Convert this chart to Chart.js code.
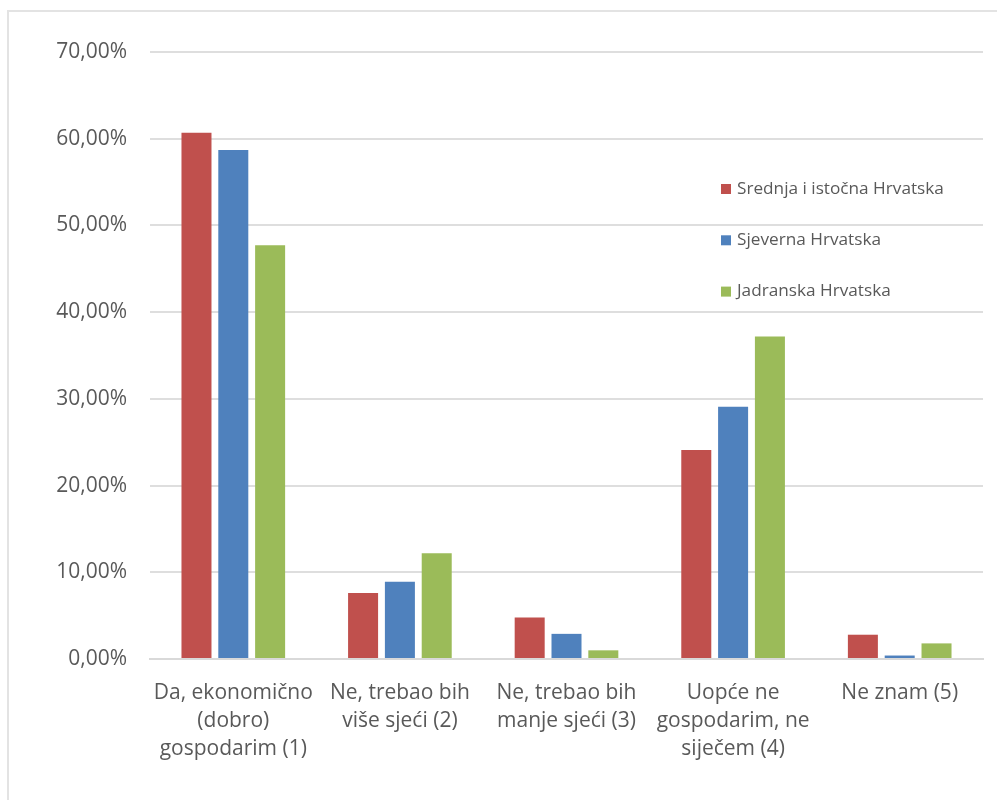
<!DOCTYPE html>
<html>
<head>
<meta charset="utf-8">
<script src="https://cdn.jsdelivr.net/npm/chart.js@4/dist/chart.umd.min.js"></script>
<style>
    html, body { margin: 0; padding: 0; background: #fff; }
    #wrap { position: relative; width: 997px; height: 800px; overflow: hidden; }
    #frame { position: absolute; left: 7px; top: 10px; width: 1100px; height: 900px; border: 2px solid #e3e3e3; box-sizing: border-box; }
    canvas { position: absolute; left: 0; top: 0; }
</style>
</head>
<body>
<div id="wrap">
    <div id="frame"></div>
    <canvas id="myChart" width="997" height="800"></canvas>
</div>
<script>
// Kategorije i vrijednosti (%)
const categories = [
    ['Da, ekonomično', '(dobro)', 'gospodarim (1)'],
    ['Ne, trebao bih', 'više sjeći (2)'],
    ['Ne, trebao bih', 'manje sjeći (3)'],
    ['Uopće ne', 'gospodarim, ne', 'siječem (4)'],
    ['Ne znam (5)']
];
const seriesNames = ['Srednja i istočna Hrvatska', 'Sjeverna Hrvatska', 'Jadranska Hrvatska'];
const srednja = [60.7, 7.6, 4.8, 24.1, 2.8];
const sjeverna = [58.7, 8.9, 2.9, 29.1, 0.4];
const jadranska = [47.7, 12.2, 1.0, 37.2, 1.8];
const yTicks = [0, 10, 20, 30, 40, 50, 60, 70];

const colors = ['#C0504D', '#4F81BD', '#9BBB59'];
const textColor = '#595959';
const fontFamily = '"Open Sans", "Noto Sans", sans-serif';

// legenda unutar područja grafa (kao u Excelu)
const insideLegend = {
    id: 'insideLegend',
    afterDraw(chart) {
        const ctx = chart.ctx;
        ctx.save();
        ctx.font = '17.2px ' + fontFamily;
        ctx.textBaseline = 'middle';
        chart.data.datasets.forEach((ds, i) => {
            const y = 189 + i * 51.3;
            ctx.fillStyle = ds.backgroundColor;
            ctx.fillRect(721, y - 5, 10, 10);
            ctx.fillStyle = textColor;
            ctx.fillText(ds.label, 737, y);
        });
        ctx.restore();
    }
};

const ctx = document.getElementById('myChart').getContext('2d');
new Chart(ctx, {
    type: 'bar',
    data: {
        labels: categories,
        datasets: [
            { label: seriesNames[0], data: srednja, backgroundColor: colors[0] },
            { label: seriesNames[1], data: sjeverna, backgroundColor: colors[1] },
            { label: seriesNames[2], data: jadranska, backgroundColor: colors[2] }
        ]
    },
    options: {
        responsive: false,
        animation: false,
        categoryPercentage: 0.663,
        barPercentage: 0.815,
        layout: { padding: { left: 0, top: 52, right: 14, bottom: 21 } },
        plugins: {
            legend: { display: false },
            tooltip: { enabled: false }
        },
        scales: {
            x: {
                grid: { display: false, drawTicks: false },
                border: { color: '#d9d9d9', width: 2 },
                ticks: {
                    color: textColor,
                    font: { family: fontFamily, size: 21, lineHeight: 1.33 },
                    padding: 20,
                    maxRotation: 0,
                    autoSkip: false
                },
                afterFit(scale) { scale.height = 120; }
            },
            y: {
                min: 0,
                max: 70,
                afterBuildTicks(scale) { scale.ticks = yTicks.map(v => ({ value: v })); },
                grid: { color: '#dedede', lineWidth: 2, drawTicks: false },
                border: { display: false },
                ticks: {
                    color: textColor,
                    font: { family: fontFamily, size: 21 },
                    padding: 23,
                    callback: v => v.toFixed(2).replace('.', ',') + '%'
                },
                afterFit(scale) { scale.width = 150; }
            }
        }
    },
    plugins: [insideLegend]
});
</script>
</body>
</html>
